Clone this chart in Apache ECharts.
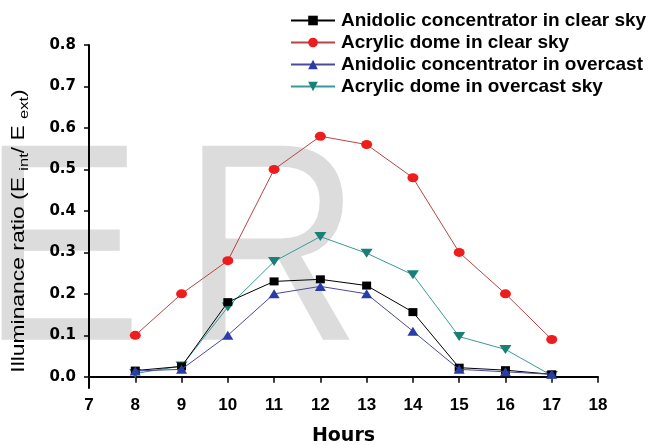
<!DOCTYPE html>
<html>
<head>
<meta charset="utf-8">
<script src="https://cdn.jsdelivr.net/npm/echarts@6/dist/echarts.min.js"></script>
<style>
html,body{margin:0;padding:0;background:#fff;}
#chart{width:652px;height:445px;}
</style>
</head>
<body>
<div id="chart"></div>
<script>
var hours = [8, 9, 10, 11, 12, 13, 14, 15, 16, 17];
var anidolicClear = [0.015, 0.025, 0.18, 0.23, 0.235, 0.22, 0.156, 0.022, 0.016, 0.006];
var acrylicClear = [0.10, 0.20, 0.28, 0.50, 0.58, 0.56, 0.48, 0.30, 0.20, 0.09];
var anidolicOvercast = [0.014, 0.018, 0.10, 0.20, 0.218, 0.20, 0.11, 0.018, 0.012, 0.006];
var acrylicOvercast = [0.008, 0.026, 0.168, 0.278, 0.338, 0.298, 0.246, 0.097, 0.066, 0.003];
var yTicks = [0, 0.1, 0.2, 0.3, 0.4, 0.5, 0.6, 0.7, 0.8];
var seriesNames = ['Anidolic concentrator in clear sky', 'Acrylic dome in clear sky', 'Anidolic concentrator in overcast', 'Acrylic dome in overcast sky'];

function pairs(vals) { return hours.map(function (h, i) { return [h, vals[i]]; }); }

var chart = echarts.init(document.getElementById('chart'), null, {renderer: 'canvas'});
var FONT = '"Liberation Sans", Arial, sans-serif';
var WIDE = '"DejaVu Sans", sans-serif';
chart.setOption({
  backgroundColor: '#fff',
  animation: false,
  graphic: [
    {type: 'text', z: -10, x: -18, y: 262, scaleX: 0.85, silent: true,
      style: {text: 'E', font: '282px "Liberation Sans", Arial', fill: '#dcdcdc', verticalAlign: 'middle'}},
    {type: 'text', z: -10, x: 182, y: 262, scaleX: 0.88, silent: true,
      style: {text: 'R', font: '282px "Liberation Sans", Arial', fill: '#dcdcdc', verticalAlign: 'middle'}},
    {type: 'text', z: 10, x: 19, y: 231, rotation: Math.PI / 2, scaleX: 1.27, silent: true,
      style: {
        text: '{a|Illuminance ratio (E }{s|int}{a|/ E }{s|ext}{a|)}',
        align: 'center', verticalAlign: 'middle',
        rich: {
          a: {fontFamily: FONT, fontSize: 18, fill: '#000', lineHeight: 24},
          s: {fontFamily: FONT, fontSize: 13, fill: '#000', lineHeight: 12, verticalAlign: 'bottom'}
        }
      }}
  ],
  grid: {left: 89, right: 54, top: 45, bottom: 57, containLabel: false, outerBoundsMode: 'none'},
  legend: {
    orient: 'vertical', left: 290, top: 11, padding: 0,
    itemWidth: 44, itemHeight: 12, itemGap: 3,
    textStyle: {fontFamily: FONT, fontWeight: 'bold', fontSize: 19, color: '#000', padding: [0, 0, 0, 1]},
    data: seriesNames
  },
  xAxis: {
    type: 'value', min: 7, max: 18, interval: 1,
    name: 'Hours', nameLocation: 'middle', nameGap: 39,
    nameTextStyle: {fontFamily: WIDE, fontWeight: 'bold', fontSize: 19, color: '#000'},
    axisLine: {lineStyle: {color: '#000', width: 2}},
    axisTick: {length: 6, lineStyle: {color: '#000', width: 1.5}},
    axisLabel: {fontFamily: FONT, fontWeight: 'bold', fontSize: 17, color: '#000', margin: 9},
    splitLine: {show: false}
  },
  yAxis: {
    type: 'value', min: -0.027, max: 0.8,
    axisLine: {show: true, lineStyle: {color: '#000', width: 2}},
    axisTick: {show: true, length: 5, lineStyle: {color: '#000', width: 1.5}, customValues: yTicks},
    axisLabel: {fontFamily: WIDE, fontWeight: 'bold', fontSize: 15, color: '#000', margin: 13,
      customValues: yTicks, formatter: function (v) { return v.toFixed(1); }},
    splitLine: {show: false}
  },
  series: [
    {name: seriesNames[0], type: 'line', data: pairs(anidolicClear), symbol: 'rect', symbolSize: [9, 8],
      lineStyle: {color: '#000', width: 1}, itemStyle: {color: '#000'}, z: 3},
    {name: seriesNames[1], type: 'line', data: pairs(acrylicClear), symbol: 'circle', symbolSize: [11, 9],
      lineStyle: {color: '#b84545', width: 1}, itemStyle: {color: '#ee1c1c'}, z: 2},
    {name: seriesNames[2], type: 'line', data: pairs(anidolicOvercast), symbol: 'triangle', symbolSize: [11, 9],
      lineStyle: {color: '#4a4a9a', width: 1}, itemStyle: {color: '#2a3ca8'}, z: 4},
    {name: seriesNames[3], type: 'line', data: pairs(acrylicOvercast), symbol: 'triangle', symbolRotate: 180, symbolSize: [12, 9],
      lineStyle: {color: '#3a9a9a', width: 1}, itemStyle: {color: '#1a7f78'}, z: 2}
  ]
});
</script>
</body>
</html>
